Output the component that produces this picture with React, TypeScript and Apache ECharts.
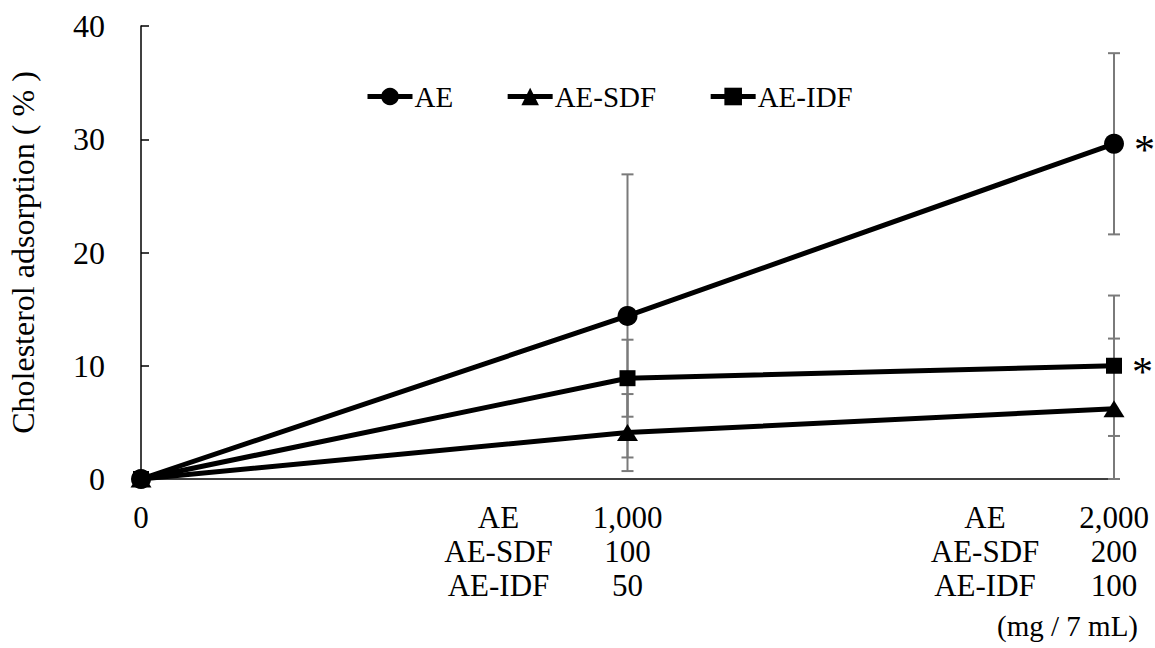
import React, { useEffect, useRef } from "react";
import * as echarts from "echarts";

// Dose levels (mg / 7 mL, AE scale) and measured adsorption (%)
const doses = [0, 1000, 2000];
const aeMean = [0, 14.4, 29.6];
const aeErr = [0, 12.5, 8.0];
const sdfMean = [0, 4.1, 6.2];
const sdfErr = [0, 3.4, 6.2];
const idfMean = [0, 8.9, 10.0];
const idfErr = [0, 3.4, 6.2];

// Dose table printed under the axis ticks
const doseRows = ["AE", "AE-SDF", "AE-IDF"];
const doseTable: Record<number, string[]> = {
  1000: ["1,000", "100", "50"],
  2000: ["2,000", "200", "100"],
};
const yTicks = [0, 10, 20, 30, 40];
const significant = { AE: [2], "AE-IDF": [2] } as Record<string, number[]>;

const FONT = "Liberation Serif";

export default function App() {
  const ref = useRef<HTMLDivElement>(null);

  useEffect(() => {
    if (!ref.current) return;
    const chart = echarts.init(ref.current, undefined, { renderer: "svg" });

    const lineSeries = (
      name: string,
      mean: number[],
      symbol: string,
      symbolSize: number | number[]
    ) => ({
      name,
      type: "line",
      z: 3,
      data: doses.map((d, i) => [d, mean[i]]),
      symbol,
      symbolSize,
      color: "#000",
      itemStyle: { color: "#000" },
      lineStyle: { color: "#000", width: 5 },
      label: {
        show: true,
        position: "right",
        distance: 10,
        offset: [0, 6],
        fontFamily: FONT,
        fontSize: 42,
        color: "#000",
        formatter: (p: any) =>
          (significant[name] || []).includes(p.dataIndex) ? "*" : "",
      },
    });

    const errSeries = (mean: number[], err: number[]) => ({
      type: "custom",
      z: 1,
      silent: true,
      data: doses.map((d, i) => [d, mean[i] - err[i], mean[i] + err[i]]),
      renderItem: (params: any, api: any) => {
        const lo = api.coord([api.value(0), api.value(1)]);
        const hi = api.coord([api.value(0), api.value(2)]);
        if (Math.abs(hi[1] - lo[1]) < 0.5) return null;
        const cap = 6;
        const style = { stroke: "#7a7a7a", lineWidth: 2 };
        return {
          type: "group",
          children: [
            { type: "line", shape: { x1: lo[0], y1: lo[1], x2: hi[0], y2: hi[1] }, style },
            { type: "line", shape: { x1: lo[0] - cap, y1: lo[1], x2: lo[0] + cap, y2: lo[1] }, style },
            { type: "line", shape: { x1: hi[0] - cap, y1: hi[1], x2: hi[0] + cap, y2: hi[1] }, style },
          ],
        };
      },
    });

    const xLabel = (v: number) => {
      if (v === 0) return "{z|0}";
      const vals = doseTable[v];
      if (!vals) return "";
      return doseRows
        .map((r, i) => `{n|${r}}{v|${vals[i]}}{s|}`)
        .join("\n");
    };

    const rowText = { fontFamily: FONT, fontSize: 31, color: "#000", lineHeight: 34 };

    chart.setOption({
      animation: false,
      backgroundColor: "#fff",
      textStyle: { fontFamily: FONT, color: "#000" },
      grid: { left: 141, right: 41, top: 26, bottom: 169, outerBoundsMode: "none", containLabel: false },
      legend: {
        left: 360,
        top: 77,
        itemWidth: 45,
        itemHeight: 22,
        itemGap: 52,
        lineStyle: { width: 5 },
        textStyle: { fontFamily: FONT, fontSize: 29, color: "#000", padding: [0, 0, 0, -3] },
        data: ["AE", "AE-SDF", "AE-IDF"],
      },
      xAxis: {
        type: "value",
        min: 0,
        max: 2000,
        interval: 1000,
        splitLine: { show: false },
        axisTick: { show: false },
        axisLine: { lineStyle: { color: "#000", width: 1.5 } },
        axisLabel: {
          margin: 21,
          showMinLabel: true,
          showMaxLabel: true,
          hideOverlap: false,
          formatter: xLabel,
          ...rowText,
          rich: {
            z: rowText,
            n: { ...rowText, width: 150, align: "right" },
            v: { ...rowText, width: 108, align: "center" },
            s: { width: 150, lineHeight: 34 },
          },
        },
      },
      yAxis: {
        type: "value",
        min: yTicks[0],
        max: yTicks[yTicks.length - 1],
        interval: 10,
        splitLine: { show: false },
        axisLine: { show: true, lineStyle: { color: "#000", width: 1.5 } },
        axisTick: { show: true, inside: true, length: 8, lineStyle: { color: "#000", width: 1.5 } },
        axisLabel: { margin: 36, color: "#000", fontFamily: FONT, fontSize: 32 },
        name: "Cholesterol adsorption ( % )",
        nameLocation: "middle",
        nameGap: 102,
        nameTextStyle: { fontFamily: FONT, fontSize: 32, color: "#000" },
      },
      graphic: [
        {
          type: "text",
          right: 17,
          top: 611,
          style: { text: "(mg / 7 mL)", font: `29px ${FONT}`, fill: "#000" },
        },
      ],
      series: [
        errSeries(aeMean, aeErr),
        errSeries(sdfMean, sdfErr),
        errSeries(idfMean, idfErr),
        lineSeries("AE", aeMean, "circle", 20),
        lineSeries("AE-SDF", sdfMean, "triangle", [21, 17]),
        lineSeries("AE-IDF", idfMean, "rect", 16),
      ],
    });

    return () => chart.dispose();
  }, []);

  return (
    <div
      ref={ref}
      style={{ position: "fixed", left: 0, top: 0, width: 1155, height: 648, background: "#fff" }}
    />
  );
}
